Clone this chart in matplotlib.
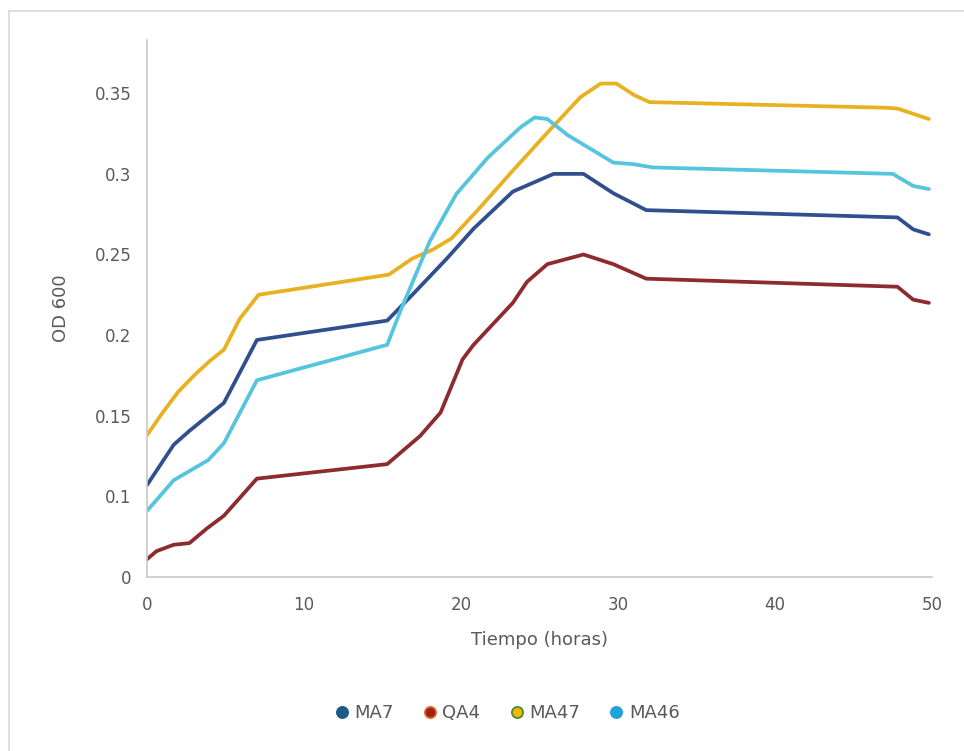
import matplotlib.pyplot as plt
from matplotlib.lines import Line2D

# series (hours, OD 600)
ma7_t = [0, 1.7, 2.7, 4.9, 7.0, 15.3, 16.9, 19.1, 20.8, 23.3, 25.9, 27.8, 29.7, 31.8, 47.8, 48.8, 49.8]
ma7_od = [0.107, 0.132, 0.1406, 0.158, 0.197, 0.209, 0.225, 0.2475, 0.266, 0.289, 0.300, 0.300, 0.288, 0.2775,
          0.273, 0.2656, 0.2625]

qa4_t = [0, 0.6, 1.7, 2.7, 3.8, 4.9, 7.0, 15.3, 17.4, 18.7, 20.1, 20.8, 23.3, 24.2, 25.5, 27.8, 29.7, 31.8,
         47.8, 48.8, 49.8]
qa4_od = [0.061, 0.066, 0.070, 0.071, 0.080, 0.088, 0.111, 0.120, 0.1375, 0.152, 0.185, 0.194, 0.220, 0.233,
          0.244, 0.250, 0.244, 0.235, 0.230, 0.222, 0.220]

ma47_t = [0, 1, 2, 3, 4, 4.9, 5.9, 7.1, 15.4, 16.9, 18.2, 19.4, 21.2, 23.3, 25.5, 27.6, 28.9, 29.9, 31.0,
          32.0, 47.1, 47.8, 49.8]
ma47_od = [0.138, 0.152, 0.165, 0.175, 0.184, 0.191, 0.210, 0.225, 0.2375, 0.2475, 0.253, 0.260, 0.279, 0.302,
           0.3256, 0.3475, 0.356, 0.356, 0.349, 0.3445, 0.341, 0.3405, 0.334]

ma46_t = [0, 1.7, 3.9, 4.9, 7.0, 15.3, 16.1, 18.0, 19.7, 21.7, 23.8, 24.7, 25.5, 26.8, 29.7, 31.0, 32.2,
          47.5, 48.8, 49.8]
ma46_od = [0.091, 0.110, 0.1225, 0.133, 0.172, 0.194, 0.214, 0.258, 0.2875, 0.310, 0.329, 0.335, 0.334, 0.324,
           0.307, 0.306, 0.304, 0.300, 0.2925, 0.2906]

names = ['MA7', 'QA4', 'MA47', 'MA46']
line_colors = ['#2f4f8f', '#8e2b2e', '#e8b120', '#55c4de']
marker_colors = ['#1d5a86', '#9a2410', '#f2b705', '#1ea3dc']
marker_edges = ['#1d5a86', '#e0632a', '#4f8a2a', '#1ea3dc']

# the picture labels the bottom tick "0" although it sits at 0.05
y_ticks = [0.05, 0.1, 0.15, 0.2, 0.25, 0.3, 0.35]
y_labels = ['0', '0.1', '0.15', '0.2', '0.25', '0.3', '0.35']
x_ticks = [0, 10, 20, 30, 40, 50]

gray = '#595959'

fig = plt.figure(figsize=(9.64, 7.51), dpi=100)
ax = fig.add_axes([0.1525, 0.2317, 0.8143, 0.715])

series = [(ma7_t, ma7_od), (qa4_t, qa4_od), (ma47_t, ma47_od), (ma46_t, ma46_od)]
for (t, od), c in zip(series, line_colors):
    ax.plot(t, od, color=c, lw=2.7, solid_joinstyle='round', solid_capstyle='round')

ax.set_xlim(0, 50)
ax.set_ylim(0.05, 0.383)
ax.set_xticks(x_ticks)
ax.set_yticks(y_ticks)
ax.set_yticklabels(y_labels)
ax.tick_params(length=0, labelsize=12, labelcolor=gray)
ax.tick_params(axis='y', pad=11)
ax.tick_params(axis='x', pad=14)
for s in ['top', 'right']:
    ax.spines[s].set_visible(False)
for s in ['left', 'bottom']:
    ax.spines[s].set_color('#c8c8c8')
    ax.spines[s].set_linewidth(1.2)

ax.set_xlabel('Tiempo (horas)', fontsize=13, color=gray, labelpad=12)
ax.set_ylabel('OD 600', fontsize=13, color=gray, labelpad=18)

handles = [Line2D([], [], ls='none', marker='o', markersize=8, markerfacecolor=fc,
                  markeredgecolor=ec, markeredgewidth=1.3)
           for fc, ec in zip(marker_colors, marker_edges)]
fig.legend(handles, names, loc='center', bbox_to_anchor=(0.525, 0.05), ncol=4, frameon=False,
           fontsize=13, labelcolor=gray, handlelength=1.0, handletextpad=0.2, columnspacing=1.5)

# light frame around the chart area
fig.add_artist(Line2D([0.0095, 0.0095], [0, 0.986], color='#d9d9d9', lw=1.2))
fig.add_artist(Line2D([0.0095, 1.0], [0.986, 0.986], color='#d9d9d9', lw=1.2))

fig.savefig('out.png', dpi=100)
